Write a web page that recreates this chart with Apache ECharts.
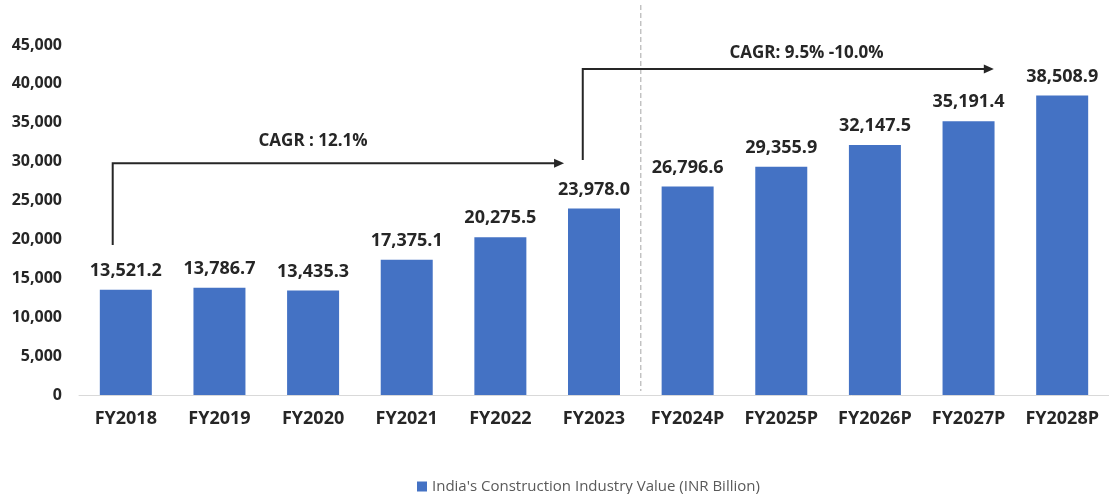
<!DOCTYPE html>
<html>
<head>
<meta charset="utf-8">
<script src="https://cdn.jsdelivr.net/npm/echarts@6/dist/echarts.min.js"></script>
<style>html,body{margin:0;padding:0;background:#fff}#c{width:1109px;height:494px}</style>
</head>
<body>
<div id="c"></div>
<script>
const categories = ['FY2018','FY2019','FY2020','FY2021','FY2022','FY2023','FY2024P','FY2025P','FY2026P','FY2027P','FY2028P'];
const values = [13521.2, 13786.7, 13435.3, 17375.1, 20275.5, 23978.0, 26796.6, 29355.9, 32147.5, 35191.4, 38508.9];
const seriesName = "India's Construction Industry Value (INR Billion)";
const yTicks = {min: 0, max: 45000, interval: 5000};
// annotation anchors in [category index, value] terms
const arrow1 = [[-0.14, 19300], [-0.14, 29800], [4.68, 29800]];
const arrow2 = [[4.88, 30200], [4.88, 41900], [9.27, 41900]];
const cagrTexts = [
  {text: 'CAGR : 12.1%', at: [2.0, 32650]},
  {text: 'CAGR: 9.5% -10.0%', at: [7.27, 43970]}
];
const dividerAt = 5.5;

const font = "'Open Sans', 'Liberation Sans', sans-serif";
const chart = echarts.init(document.getElementById('c'), null, {renderer: 'canvas'});
chart.setOption({
  animation: false,
  textStyle: {fontFamily: font},
  grid: {left: 79, top: 45, height: 350, width: 1035, containLabel: false},
  legend: {
    data: [seriesName], left: 412, top: 474, icon: 'rect', itemWidth: 10, itemHeight: 10, itemGap: 4,
    textStyle: {fontFamily: font, fontSize: 15, color: '#595959'}
  },
  xAxis: {
    type: 'category', data: categories,
    axisTick: {show: false},
    axisLine: {lineStyle: {color: '#d9d9d9', width: 1}},
    axisLabel: {fontFamily: font, fontSize: 18, fontWeight: 'bold', color: '#262626', margin: 15, interval: 0}
  },
  yAxis: {
    type: 'value', min: yTicks.min, max: yTicks.max, interval: yTicks.interval,
    splitLine: {show: false}, axisLine: {show: false}, axisTick: {show: false},
    axisLabel: {fontFamily: font, fontSize: 16, fontWeight: 'bold', color: '#262626', margin: 17,
      formatter: v => v.toLocaleString('en-US')}
  },
  series: [{
    name: seriesName, type: 'bar', data: values, barWidth: 52,
    itemStyle: {color: '#4472C4'},
    label: {show: true, position: 'top', distance: 10, fontFamily: font, fontSize: 18, fontWeight: 'bold', color: '#262626',
      formatter: p => p.value.toLocaleString('en-US', {minimumFractionDigits: 1, maximumFractionDigits: 1})}
  }]
});

function px(pt) {
  const x0 = chart.convertToPixel({xAxisIndex: 0}, categories[0]);
  const x1 = chart.convertToPixel({xAxisIndex: 0}, categories[1]);
  const y = chart.convertToPixel({yAxisIndex: 0}, pt[1]);
  return [x0 + (x1 - x0) * pt[0], y];
}
function arrow(pts) {
  const p = pts.map(px);
  const tip = p[p.length - 1];
  return [
    {type: 'polyline', shape: {points: [p[0], p[1], [tip[0] - 8, tip[1]]]}, style: {stroke: '#262626', lineWidth: 2, fill: null}, z: 100},
    {type: 'polygon', shape: {points: [[tip[0], tip[1]], [tip[0] - 10, tip[1] - 4.5], [tip[0] - 10, tip[1] + 4.5]]}, style: {fill: '#262626'}, z: 100}
  ];
}
const gs = [];
gs.push(...arrow(arrow1), ...arrow(arrow2));
cagrTexts.forEach(t => {
  const p = px(t.at);
  gs.push({type: 'text', x: p[0], y: p[1], style: {text: t.text, fontFamily: font, fontSize: 17, fontWeight: 'bold', fill: '#262626', align: 'center', verticalAlign: 'middle'}, z: 100});
});
const dx = px([dividerAt, 0])[0];
const yb = chart.convertToPixel({yAxisIndex: 0}, 0);
gs.push({type: 'line', shape: {x1: dx, y1: 5, x2: dx, y2: yb - 4}, style: {stroke: '#a6a6a6', lineWidth: 1, lineDash: [5, 3]}, z: 90});
chart.setOption({graphic: gs});
</script>
</body>
</html>
